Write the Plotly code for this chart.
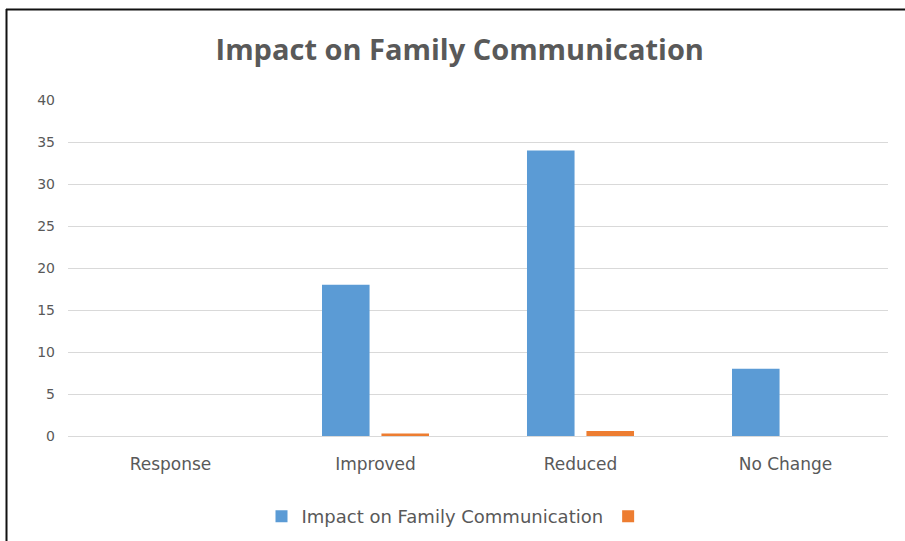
import plotly.graph_objects as go

categories = ["Response", "Improved", "Reduced", "No Change"]
series_main_name = "Impact on Family Communication"
series_main = [0, 18, 34, 8]
series_second_name = ""
series_second = [0, 0.3, 0.6, 0]
y_ticks = [0, 5, 10, 15, 20, 25, 30, 35, 40]

fig = go.Figure()
fig.add_trace(go.Bar(x=categories, y=series_main, name=series_main_name,
                     marker=dict(color="#5b9bd5", line=dict(width=0))))
fig.add_trace(go.Bar(x=categories, y=series_second, name=series_second_name,
                     marker=dict(color="#ed7d31", line=dict(width=0))))

title_font = "Open Sans, Noto Sans, sans-serif"
label_font = "DejaVu Sans, Verdana, sans-serif"
fig.update_layout(
    width=905, height=541,
    margin=dict(l=68, r=17, t=100, b=105, autoexpand=False),
    paper_bgcolor="white", plot_bgcolor="white",
    barmode="group", bargap=0.42, bargroupgap=0.2,
    title=dict(text="<b>Impact on Family Communication</b>", x=0.508, xanchor="center",
               y=1 - 50/541, yanchor="middle",
               font=dict(family=title_font, size=29, color="#595959")),
    font=dict(family=label_font, color="#595959", size=14),
    showlegend=True,
    legend=dict(orientation="h", x=0.475, xanchor="center", y=-0.24, yanchor="middle",
                font=dict(family=label_font, size=18, color="#595959"), itemwidth=30,
                traceorder="normal"),
    xaxis=dict(showgrid=False, showline=False, ticks="", ticklabelstandoff=16,
               automargin=False,
               tickfont=dict(family=label_font, size=17, color="#595959")),
    yaxis=dict(range=[0, 40], tickvals=y_ticks, showgrid=True, gridcolor="#d9d9d9",
               gridwidth=1, zeroline=True, zerolinecolor="#d9d9d9", zerolinewidth=1,
               showline=False, ticks="", ticklabelstandoff=12, automargin=False,
               tickfont=dict(family=label_font, size=14, color="#595959")),
    shapes=[
        dict(type="line", xref="paper", yref="paper",
             x0=(6 - 68) / 820, x1=(910 - 68) / 820,
             y0=1 + (100 - 9.5) / 336, y1=1 + (100 - 9.5) / 336,
             line=dict(color="#111111", width=2)),
        dict(type="line", xref="paper", yref="paper",
             x0=(6.5 - 68) / 820, x1=(6.5 - 68) / 820,
             y0=1 + (100 - 9) / 336, y1=-0.35,
             line=dict(color="#111111", width=2)),
    ],
)

fig.write_html("out.html", config={"displayModeBar": False},
               post_script="document.body.style.margin='0';")
